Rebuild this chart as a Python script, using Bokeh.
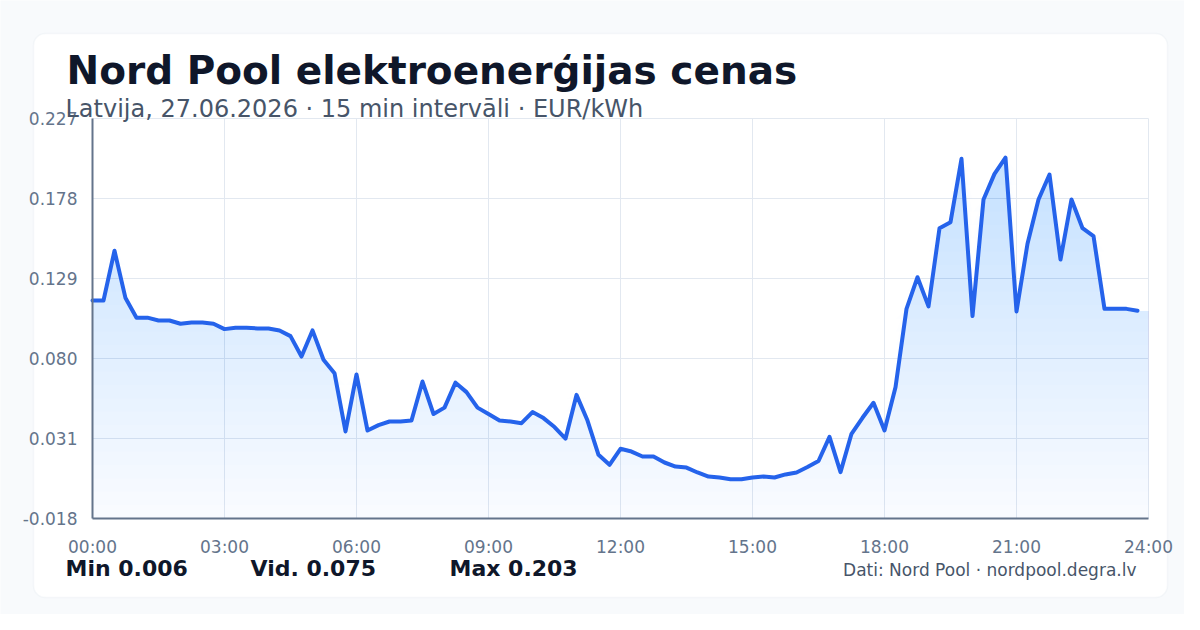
import numpy as np
from bokeh.plotting import figure
from bokeh.models import Range1d, FixedTicker, PrintfTickFormatter, Label, BoxAnnotation
from bokeh.embed import file_html
from bokeh.resources import INLINE

# cenas EUR/kWh, 15 min soli no 00:00 lidz 23:45
prices = [
    0.1155, 0.1155, 0.146, 0.117, 0.105, 0.105, 0.1033, 0.1033,
    0.1013, 0.102, 0.102, 0.1013, 0.098, 0.0989, 0.0989, 0.0984,
    0.0984, 0.0972, 0.0937, 0.0812, 0.0972, 0.0792, 0.071, 0.0353,
    0.0702, 0.0359, 0.0392, 0.0414, 0.0414, 0.042, 0.0659, 0.046,
    0.0499, 0.0652, 0.0594, 0.0499, 0.046, 0.042, 0.0414, 0.0404,
    0.0472, 0.0435, 0.038, 0.0309, 0.0577, 0.042, 0.021, 0.0149,
    0.0247, 0.023, 0.02, 0.02, 0.0163, 0.0138, 0.0132, 0.0102,
    0.0077, 0.0071, 0.006, 0.006, 0.0071, 0.0077, 0.0071, 0.009,
    0.0102, 0.0135, 0.0172, 0.032, 0.0104, 0.0339, 0.0437, 0.0529,
    0.0359, 0.0624, 0.1104, 0.1298, 0.1119, 0.1598, 0.1635, 0.2023,
    0.106, 0.1774, 0.1931, 0.203, 0.1088, 0.1503, 0.1774, 0.1927,
    0.1406, 0.1774, 0.1598, 0.155, 0.1104, 0.1104, 0.1104, 0.1093,
]
y_ticks = [-0.018, 0.031, 0.080, 0.129, 0.178, 0.227]
x_ticks = [0, 3, 6, 9, 12, 15, 18, 21, 24]
x_labels = ["00:00", "03:00", "06:00", "09:00", "12:00", "15:00", "18:00", "21:00", "24:00"]

title = "Nord Pool elektroenerģijas cenas"
subtitle = "Latvija, 27.06.2026 · 15 min intervāli · EUR/kWh"
stats = ["Min 0.006", "Vid. 0.075", "Max 0.203"]
source = "Dati: Nord Pool · nordpool.degra.lv"

FONT = "DejaVu Sans"
BLUE = "#2563eb"
W, H = 1184, 614
# zīmēšanas laukums pikseļos: x 92..1148, y 118..518 (no augšas)
PL, PR, PT, PB = 92, 1148, 118, 518

hours = np.arange(len(prices)) * 0.25
vals = np.array(prices)
# laukums turpinas lidz 24:00
fill_x = np.append(hours, 24.0)
fill_y = np.append(vals, vals[-1])

x0, x1 = x_ticks[0], x_ticks[-1]
ymin, ymax = y_ticks[0], y_ticks[-1]
# diapazoni izstiepti tā, lai grafiks aizņem tikai daļu kartes
xs = (x1 - x0) / (PR - PL)
ys = (ymax - ymin) / (PB - PT)
x_range = Range1d(x0 - PL * xs, x1 + (W - PR) * xs)
y_range = Range1d(ymin - (H - PB) * ys, ymax + PT * ys)

p = figure(width=W, height=H, output_backend="svg", toolbar_location=None,
           x_range=x_range, y_range=y_range,
           min_border=0, min_border_left=0, min_border_right=0,
           min_border_top=0, min_border_bottom=0)
p.border_fill_color = "#f8fafc"
p.background_fill_color = "#f8fafc"
p.outline_line_color = None
p.grid.visible = False

card = BoxAnnotation(left=33, right=1167, bottom=H - 597, top=H - 33,
                     left_units="screen", right_units="screen",
                     bottom_units="screen", top_units="screen",
                     fill_color="white", fill_alpha=1.0,
                     line_color="#e2e8f0", line_width=1.5,
                     border_radius=12, level="image")
p.add_layout(card)

# režģis
p.segment(x0=x_ticks, y0=ymin, x1=x_ticks, y1=ymax, line_color="#e2e8f0", line_width=1)
p.segment(x0=x0, y0=y_ticks, x1=x1, y1=y_ticks, line_color="#e2e8f0", line_width=1)

# gradienta imitacija ar slaniem
p.varea(x=fill_x, y1=ymin, y2=fill_y, fill_color=BLUE, fill_alpha=0.02)
levels = np.linspace(ymin, ymax, 31)[:-1]
for lv in levels:
    p.varea(x=fill_x, y1=lv, y2=np.maximum(fill_y, lv), fill_color=BLUE, fill_alpha=0.0068)

p.line(hours, vals, line_width=4, color=BLUE, line_join="round", line_cap="round")

p.xaxis.fixed_location = ymin
p.yaxis.fixed_location = x0
p.xaxis.bounds = (x0, x1)
p.yaxis.bounds = (ymin, ymax)
p.xaxis.ticker = FixedTicker(ticks=x_ticks)
p.xaxis.major_label_overrides = dict(zip(x_ticks, x_labels))
p.yaxis.ticker = FixedTicker(ticks=y_ticks)
p.yaxis.formatter = PrintfTickFormatter(format="%.3f")
for ax in (p.xaxis, p.yaxis):
    ax.axis_line_color = "#64748b"
    ax.axis_line_width = 2
    ax.major_tick_line_color = None
    ax.minor_tick_line_color = None
    ax.major_tick_out = 0
    ax.major_tick_in = 0
    ax.minor_tick_out = 0
    ax.major_label_text_font = FONT
    ax.major_label_text_font_size = "17px"
    ax.major_label_text_color = "#64748b"
p.xaxis.major_label_standoff = 18
p.yaxis.major_label_standoff = 15


def label(x, y, text, size, color, bold=False, align="left"):
    # x, y: pikseļi no kreisā apakšējā stūra
    p.add_layout(Label(x=x, y=y, x_units="screen", y_units="screen", text=text,
                       text_font=FONT, text_font_size=size, text_color=color,
                       text_font_style="bold" if bold else "normal",
                       text_align=align, text_baseline="alphabetic"))


label(66, H - 70, title, "39px", "#0f172a", bold=True)
label(65, H - 108, subtitle, "24px", "#475569")
for sx, s in zip([65, 250, 449], stats):
    label(sx, H - 568, s, "22px", "#0f172a", bold=True)
label(1136, H - 569, source, "17px", "#475569", align="right")

open("out.html", "w").write(file_html(p, INLINE))
